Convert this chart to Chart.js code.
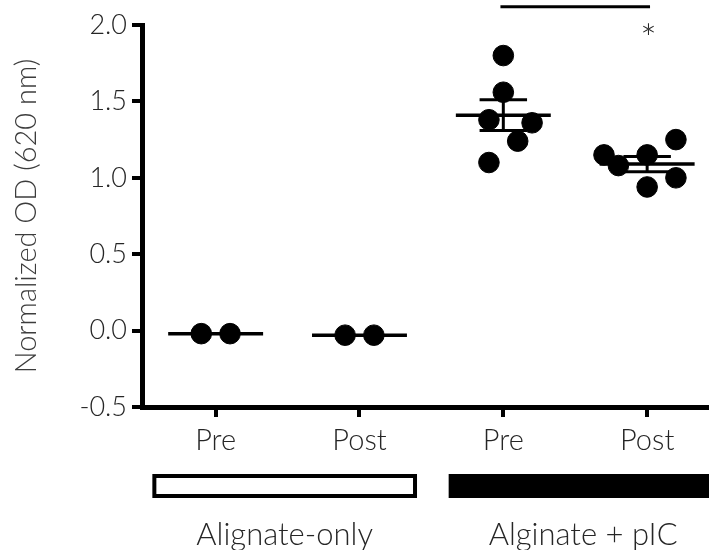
<!DOCTYPE html>
<html lang="en">
  <head>
    <meta charset="UTF-8">
    <title>Normalized OD</title>
    <script src="https://cdn.jsdelivr.net/npm/chart.js@4.4.0/dist/chart.umd.min.js"></script>
    <style>
      body { margin: 0; background: #fff; }
      #wrap { width: 709px; height: 550px; }
    </style>
  </head>
  <body>
    <div id="wrap"><canvas id="chart" width="709" height="550"></canvas></div>
    <script>
    // values
    const categories = ['Pre', 'Post', 'Pre', 'Post'];
    const algOnlyPre  = [-0.02, -0.02];
    const algOnlyPost = [-0.03, -0.03];
    const picPre  = [1.80, 1.56, 1.38, 1.36, 1.24, 1.10];
    const picPost = [1.15, 1.08, 1.15, 1.25, 1.00, 0.94];
    const means = [-0.02, -0.03, 1.41, 1.09];
    const sems  = [0, 0, 0.10, 0.05];
    const groupLabels = ['Alignate-only', 'Alginate + pIC'];
    const yTicks = [-0.5, 0.0, 0.5, 1.0, 1.5, 2.0];

    // horizontal spread of the dots inside each column
    const jitter = [
      [-0.1, 0.1],
      [-0.1, 0.1],
      [0, 0, -0.1, 0.2, 0.1, -0.1],
      [-0.3, -0.2, 0, 0.2, 0.2, 0]
    ];

    const columns = [algOnlyPre, algOnlyPost, picPre, picPost];
    const FONT = 'Lato, "Open Sans", sans-serif';
    const TXT = '#262626';

    const points = [];
    columns.forEach((vals, i) => {
      vals.forEach((v, j) => points.push({ x: i + 1 + jitter[i][j], y: v }));
    });

    const segs = [];
    function seg(x1, x2, y1, y2, w) {
      segs.push({
        type: 'line',
        data: [{ x: x1, y: y1 }, { x: x2, y: y2 }],
        borderColor: '#000',
        borderWidth: w,
        pointRadius: 0,
        borderCapStyle: 'butt',
        order: 2
      });
    }
    means.forEach((m, i) => {
      const c = i + 1;
      seg(c - 0.33, c + 0.33, m, m, 3.5);
      if (sems[i] > 0) {
        seg(c, c, m - sems[i], m + sems[i], 3);
        seg(c - 0.165, c + 0.165, m + sems[i], m + sems[i], 3);
        seg(c - 0.165, c + 0.165, m - sems[i], m - sems[i], 3);
      }
    });

    const extras = {
      id: 'extras',
      afterDraw(chart) {
        const ctx = chart.ctx;
        const x = chart.scales.x, y = chart.scales.y;
        ctx.save();
        // significance bar over the pIC columns
        ctx.strokeStyle = '#000';
        ctx.lineWidth = 3;
        ctx.beginPath();
        ctx.moveTo(x.getPixelForValue(2.98), y.getPixelForValue(2.12));
        ctx.lineTo(x.getPixelForValue(4.02), y.getPixelForValue(2.12));
        ctx.stroke();
        ctx.fillStyle = TXT;
        ctx.font = '300 40px ' + FONT;
        ctx.textAlign = 'center';
        ctx.textBaseline = 'middle';
        ctx.fillText('*', x.getPixelForValue(4.01), y.getPixelForValue(1.9));

        // group boxes under the axis
        const spans = [[0.56, 2.40], [2.62, 4.49]];
        spans.forEach((s, i) => {
          const x1 = x.getPixelForValue(s[0]), x2 = x.getPixelForValue(s[1]);
          if (i === 0) {
            ctx.lineWidth = 4;
            ctx.strokeRect(x1 + 2, 476, x2 - x1 - 4, 20);
          } else {
            ctx.fillStyle = '#000';
            ctx.fillRect(x1, 474, x2 - x1, 24);
          }
          ctx.fillStyle = TXT;
          ctx.font = '300 31px ' + FONT;
          ctx.fillText(groupLabels[i], (x1 + x2) / 2, 535);
        });
        ctx.restore();
      }
    };

    new Chart(document.getElementById('chart'), {
      type: 'scatter',
      data: {
        datasets: [{
          data: points,
          backgroundColor: '#000',
          borderColor: '#000',
          pointRadius: 10.3,
          pointHoverRadius: 10.3,
          order: 1
        }].concat(segs)
      },
      options: {
        responsive: false,
        animation: false,
        events: [],
        layout: { autoPadding: false, padding: { top: 25, left: 0, right: 0, bottom: 0 } },
        plugins: { legend: { display: false }, tooltip: { enabled: false } },
        scales: {
          x: {
            type: 'linear',
            min: 0.488,
            max: 4.43,
            afterFit: s => { s.height = 143; },
            afterBuildTicks: s => { s.ticks = categories.map((c, i) => ({ value: i + 1 })); },
            border: { display: true, color: '#000', width: 5 },
            grid: { drawOnChartArea: false, drawTicks: true, tickLength: 10, lineWidth: 4, color: '#000' },
            ticks: {
              padding: 6,
              color: TXT,
              font: { family: FONT, size: 29, weight: 300 },
              callback: v => categories[v - 1]
            }
          },
          y: {
            min: -0.5,
            max: 2.0,
            afterFit: s => { s.width = 142; },
            afterBuildTicks: s => { s.ticks = yTicks.map(v => ({ value: v })); },
            border: { display: true, color: '#000', width: 5 },
            grid: { drawOnChartArea: false, drawTicks: true, tickLength: 10, lineWidth: 4, color: '#000' },
            ticks: {
              padding: 5,
              color: TXT,
              font: { family: FONT, size: 27, weight: 300 },
              callback: v => v.toFixed(1)
            },
            title: {
              display: true,
              text: 'Normalized OD (620 nm)',
              color: '#3c3c3c',
              padding: { top: 9, bottom: 0 },
              font: { family: FONT, size: 29, weight: 300 }
            }
          }
        }
      },
      plugins: [extras]
    });
    </script>
  </body>
</html>
